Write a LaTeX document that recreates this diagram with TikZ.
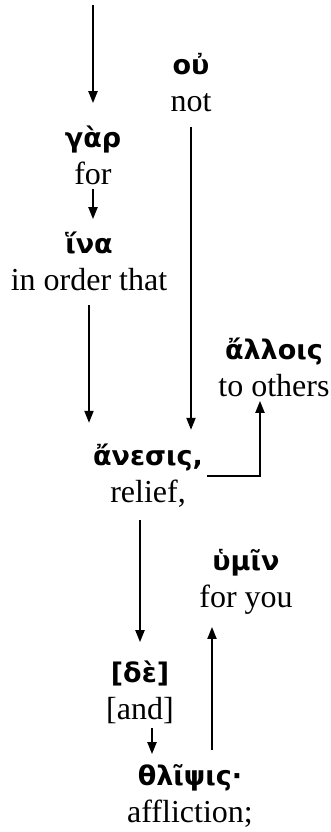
\documentclass[tikz,border=0pt]{standalone}
\usepackage{fontspec}
\setmainfont{Liberation Serif}
\newfontfamily\grk{DejaVu Sans}
\usetikzlibrary{arrows.meta, positioning}

\newcommand{\gr}[1]{{\grk\bfseries\fontsize{13.5}{18.5}\selectfont #1}}

\tikzset{
  palabra/.style={align=center, inner sep=2pt, font=\fontsize{16}{18.5}\selectfont},
  flecha/.style={-{Triangle[length=6pt, width=4.5pt]}, line width=1pt},
}

\begin{document}
\begin{tikzpicture}[x=0.5pt, y=-0.5pt]
        \useasboundingbox (0,0) rectangle (331,832);
        % palabras con su glosa
        \node[palabra] (ou)       at (191,83)  {\gr{οὐ}\\not};
        \node[palabra] (gar)      at (93,155)  {\gr{γὰρ}\\for};
        \node[palabra] (hina)     at (89,261)  {\gr{ἵνα}\\in order that};
        \node[palabra] (allois)   at (274,367) {\gr{ἄλλοις}\\to others};
        \node[palabra] (anesis)   at (148,476) {\gr{ἄνεσις,}\\relief,};
        \node[palabra] (humin)    at (246,582) {\gr{ὑμῖν}\\for you};
        \node[palabra] (de)       at (140,692) {\gr{[δὲ]}\\{[and]}};
        \node[palabra] (thlipsis) at (190,796) {\gr{θλῖψις·}\\affliction;};
        % flechas
        \coordinate (arriba) at (93,5);
        \draw[flecha, shorten >=9pt] (arriba) -- (gar.north);
        \draw[flecha, shorten >=4pt] (gar.south) -- (gar.south |- hina.north);
        \draw[flecha, shorten <=5pt, shorten >=8.5pt] (hina.south) -- (hina.south |- anesis.north);
        \draw[flecha, shorten <=5pt, shorten >=5pt] (ou.south) -- (ou.south |- anesis.north);
        \draw[flecha] (anesis.east) -| ([xshift=-7pt]allois.south);
        \draw[flecha, shorten <=4pt, shorten >=7pt] ([xshift=-4pt]anesis.south) -- ([xshift=-4pt]anesis.south |- de.north);
        \draw[flecha, shorten >=3pt] ([xshift=6pt]de.south) -- ([xshift=6pt]de.south |- thlipsis.north);
        \draw[flecha, shorten <=5pt, shorten >=4pt] ([xshift=11pt]thlipsis.north) -- ([xshift=11pt]thlipsis.north |- humin.south);
      \end{tikzpicture}
\end{document}
